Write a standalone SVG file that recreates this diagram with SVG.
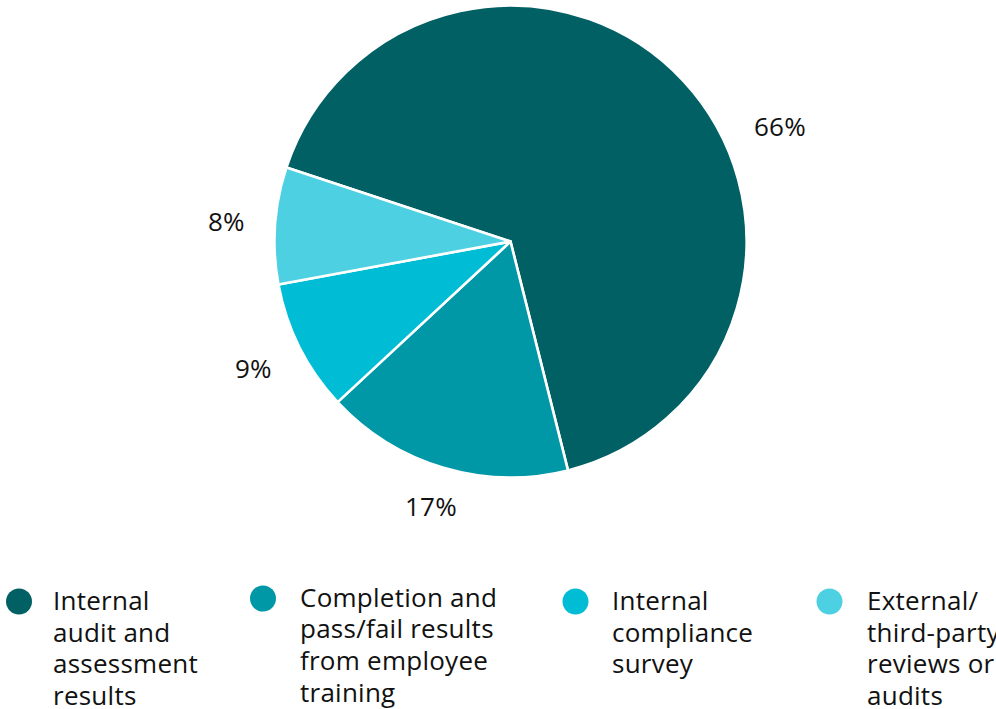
<svg xmlns="http://www.w3.org/2000/svg" width="996" height="709" viewBox="0 0 996 709">
<style>
.slice{stroke:#ffffff;stroke-width:2.6;stroke-linejoin:round}
.lbl{font-family:"Open Sans","Noto Sans","Liberation Sans",sans-serif;font-size:26px;letter-spacing:0.25px;fill:#111111}
.c1{fill:#006064}.c2{fill:#0097a7}.c3{fill:#00bcd4}.c4{fill:#4dd0e1}
</style>
<rect width="996" height="709" fill="#ffffff"/>
<g id="pie">
<path id="slice-66" class="slice c1" d="M510.5,241.5 L286.43,167.40 A236,236 0 1,1 567.99,470.39 Z"/>
<path id="slice-17" class="slice c2" d="M510.5,241.5 L567.99,470.39 A236,236 0 0,1 337.62,402.15 Z"/>
<path id="slice-9" class="slice c3" d="M510.5,241.5 L337.62,402.15 A236,236 0 0,1 278.45,284.51 Z"/>
<path id="slice-8" class="slice c4" d="M510.5,241.5 L278.45,284.51 A236,236 0 0,1 286.43,167.40 Z"/>
</g>
<g id="data-labels">
<text class="lbl" x="754" y="136">66%</text>
<text class="lbl" x="405" y="516">17%</text>
<text class="lbl" x="235" y="378">9%</text>
<text class="lbl" x="208" y="231">8%</text>
</g>
<g id="legend-1">
<circle class="c1" cx="19" cy="601.5" r="13"/>
<text class="lbl" x="53" y="610">Internal</text>
<text class="lbl" x="53" y="641.7">audit and</text>
<text class="lbl" x="53" y="673.4">assessment</text>
<text class="lbl" x="53" y="705">results</text>
</g>
<g id="legend-2">
<circle class="c2" cx="263" cy="598.5" r="13"/>
<text class="lbl" x="300" y="606.5">Completion and</text>
<text class="lbl" x="300" y="638.2">pass/fail results</text>
<text class="lbl" x="300" y="670">from employee</text>
<text class="lbl" x="300" y="701.7">training</text>
</g>
<g id="legend-3">
<circle class="c3" cx="575.5" cy="601.5" r="13"/>
<text class="lbl" x="612" y="610">Internal</text>
<text class="lbl" x="612" y="641.7">compliance</text>
<text class="lbl" x="612" y="673.4">survey</text>
</g>
<g id="legend-4">
<circle class="c4" cx="829.5" cy="601.5" r="13"/>
<text class="lbl" x="867" y="610">External/</text>
<text class="lbl" x="867" y="641.7">third-party</text>
<text class="lbl" x="867" y="673.4">reviews or</text>
<text class="lbl" x="867" y="705">audits</text>
</g>
</svg>
